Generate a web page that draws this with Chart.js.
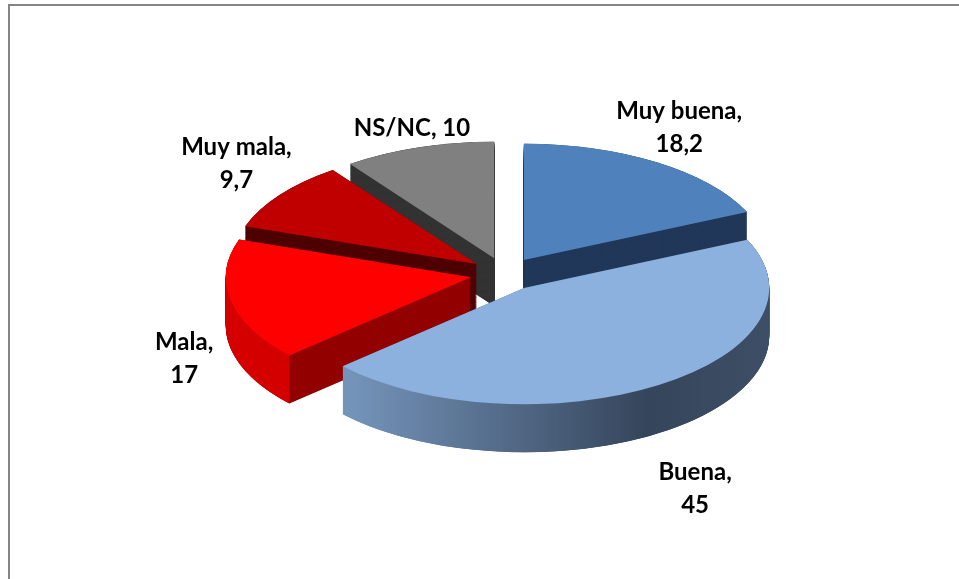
<!DOCTYPE html>
<html>
<head>
<meta charset="utf-8">
<script src="https://cdn.jsdelivr.net/npm/chart.js@4.4.1/dist/chart.umd.min.js"></script>
<style>
html, body { margin: 0; padding: 0; background: #fff; overflow: hidden; }
#frame { position: absolute; left: 8px; top: 4px; width: 1000px; height: 700px;
         border-left: 2px solid #858585; border-top: 2px solid #858585; }
canvas { position: absolute; left: 0; top: 0; }
</style>
</head>
<body>
<div id="frame"></div>
<canvas id="pie" width="959" height="579"></canvas>
<script>
// data
var labels = ['Muy buena', 'Buena', 'Mala', 'Muy mala', 'NS/NC'];
var values = [18.2, 45, 17, 9.7, 10];
var wrapLabel = [true, true, true, true, false];

// colours: top face, cut face, outer rim
var topColors = ['#4F81BD', '#8DB1DF', '#FF0000', '#C00000', '#808080'];
var cutColors = ['#22385A', 'grad', '#930000', '#4F0000', '#333333'];
var rimColors = ['#22385A', 'grad', '#D40000', '#4F0000', '#333333'];

// fake 3d settings
var TILT = 0.475, DEPTH = 48, EXPLODE = 35, CENTER_Y = 274, PAD = 12;

function valueText(v) {
    return String(v).replace('.', ',');
}

function buenaGradient(ctx, arc) {
    var g = ctx.createLinearGradient(arc.x - arc.outerRadius, 0, arc.x + arc.outerRadius, 0);
    g.addColorStop(0, '#7C9AC0');
    g.addColorStop(0.15, '#7493B9');
    g.addColorStop(0.75, '#35455B');
    g.addColorStop(1, '#3D4E66');
    return g;
}

var pie3d = {
    id: 'pie3d',
    beforeDatasetsDraw: function (chart) {
        var ctx = chart.ctx;
        var arcs = chart.getDatasetMeta(0).data;
        var cy0 = arcs[0].y;
        this._cy0 = cy0;
        // explode slices
        arcs.forEach(function (arc) {
            var mid = (arc.startAngle + arc.endAngle) / 2;
            arc._x0 = arc.x; arc._y0 = arc.y;
            arc.x += Math.cos(mid) * EXPLODE;
            arc.y += Math.sin(mid) * EXPLODE;
        });
        ctx.save();
        ctx.translate(0, CENTER_Y);
        ctx.scale(1, TILT);
        ctx.translate(0, -cy0);

        var dy = DEPTH / TILT;
        var order = arcs.map(function (a, i) { return i; });
        order.sort(function (a, b) {
            var ma = (arcs[a].startAngle + arcs[a].endAngle) / 2;
            var mb = (arcs[b].startAngle + arcs[b].endAngle) / 2;
            return Math.sin(ma) - Math.sin(mb);
        });
        order.forEach(function (i) {
            var arc = arcs[i], r = arc.outerRadius;
            var a0 = arc.startAngle, a1 = arc.endAngle;
            ctx.fillStyle = cutColors[i] === 'grad' ? buenaGradient(ctx, arc) : cutColors[i];
            for (var s = dy; s > 0; s -= 1) {
                ctx.beginPath();
                ctx.moveTo(arc.x, arc.y + s);
                ctx.arc(arc.x, arc.y + s, r, a0, a1);
                ctx.closePath();
                ctx.fill();
            }
            // outer rim on the front half
            var b0 = Math.max(a0, 0), b1 = Math.min(a1, Math.PI);
            if (b1 > b0) {
                ctx.fillStyle = rimColors[i] === 'grad' ? buenaGradient(ctx, arc) : rimColors[i];
                ctx.beginPath();
                ctx.arc(arc.x, arc.y, r, b0, b1);
                ctx.arc(arc.x, arc.y + dy, r, b1, b0, true);
                ctx.closePath();
                ctx.fill();
            }
        });
    },
    afterDatasetsDraw: function (chart) {
        var ctx = chart.ctx;
        ctx.restore();
        var arcs = chart.getDatasetMeta(0).data;
        var cy0 = this._cy0;

        ctx.save();
        ctx.font = 'bold 24px Lato';
        ctx.fillStyle = '#000';
        ctx.textAlign = 'center';
        ctx.textBaseline = 'alphabetic';
        var LH = 33, CAP = 17;
        arcs.forEach(function (arc, i) {
            var mid = (arc.startAngle + arc.endAngle) / 2;
            var c = Math.cos(mid), s = Math.sin(mid), r = arc.outerRadius;
            var sx = arc.x + c * r;
            var sy = CENTER_Y + TILT * (arc.y - cy0 + s * r) + (s > 0 ? DEPTH : 0);
            var lines = wrapLabel[i] ? [labels[i] + ',', valueText(values[i])]
                                     : [labels[i] + ', ' + valueText(values[i])];
            var w = 0;
            lines.forEach(function (l) { w = Math.max(w, ctx.measureText(l).width); });
            var hw = w / 2, hh = ((lines.length - 1) * LH + CAP) / 2;
            var t = PAD + Math.min(Math.abs(c) > 1e-3 ? hw / Math.abs(c) : 1e9,
                                   Math.abs(s) > 1e-3 ? hh / Math.abs(s) : 1e9);
            if (s > 0) t += DEPTH * s * 0.6;
            var lx = sx + c * t, ly = sy + s * t;
            var top = ly - hh;
            lines.forEach(function (l, k) {
                ctx.fillText(l, lx, top + CAP + k * LH);
            });
            arc.x = arc._x0; arc.y = arc._y0;
        });
        ctx.restore();
    }
};

var ctx1 = document.getElementById('pie').getContext('2d');
var pieChart = new Chart(ctx1, {
    type: 'pie',
    data: {
        labels: labels,
        datasets: [{
            data: values,
            backgroundColor: topColors,
            borderWidth: 0,
            radius: 245,
            clip: false
        }]
    },
    options: {
        responsive: false,
        animation: false,
        layout: { padding: { left: 51, right: 0 } },
        plugins: {
            legend: { display: false },
            tooltip: { enabled: false }
        }
    },
    plugins: [pie3d]
});
</script>
</body>
</html>
